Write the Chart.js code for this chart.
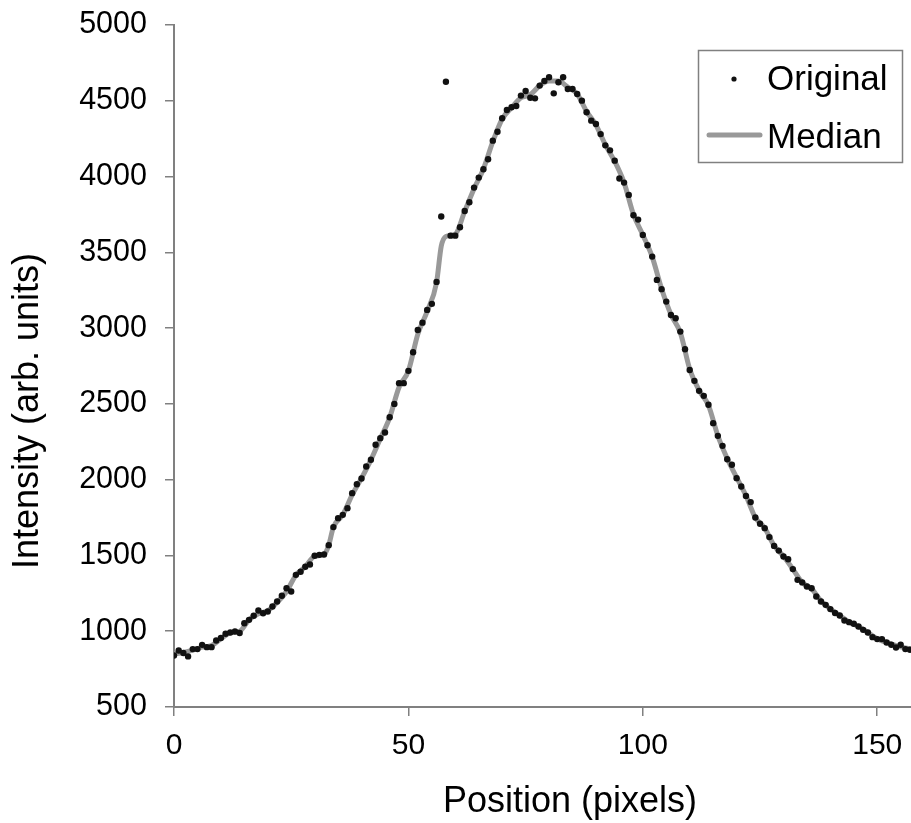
<!DOCTYPE html>
<html>
<head>
<meta charset="utf-8">
<script src="https://cdn.jsdelivr.net/npm/chart.js@4.4.1/dist/chart.umd.min.js"></script>
<style>
html, body { margin: 0; padding: 0; background: #fff; overflow: hidden; }
#grafico { display: block; }
</style>
</head>
<body>
<canvas id="grafico" width="911" height="823"></canvas>
<script>
// --- datos ---
// intensidad original, un valor por pixel (posicion 0..157)
const originalIntensity = [
  840, 873, 856, 834, 882, 882, 910, 895, 895, 939,
  955, 983, 992, 998, 988, 1053, 1075, 1102, 1137, 1119,
  1130, 1163, 1196, 1234, 1284, 1262, 1372, 1392, 1425, 1440,
  1498, 1504, 1506, 1568, 1687, 1746, 1768, 1812, 1911, 1970,
  2008, 2087, 2131, 2230, 2274, 2311, 2412, 2500, 2637, 2637,
  2718, 2841, 2988, 3036, 3120, 3160, 3305, 3736, 4626, 3610,
  3610, 3666, 3773, 3830, 3927, 3993, 4048, 4114, 4237, 4296,
  4385, 4439, 4457, 4466, 4534, 4565, 4520, 4516, 4600, 4631,
  4655, 4549, 4622, 4655, 4578, 4578, 4545, 4501, 4424, 4369,
  4347, 4280, 4206, 4173, 4105, 3987, 3960, 3879, 3745, 3716,
  3615, 3547, 3472, 3318, 3257, 3175, 3087, 3065, 2977, 2861,
  2724, 2652, 2586, 2553, 2494, 2373, 2289, 2223, 2135, 2098,
  2010, 1955, 1893, 1852, 1750, 1709, 1680, 1621, 1563, 1532,
  1493, 1475, 1410, 1339, 1322, 1295, 1284, 1229, 1196, 1174,
  1146, 1120, 1104, 1071, 1060, 1049, 1031, 1009, 992, 961,
  948, 948, 926, 911, 893, 911, 882, 878
];

// curva mediana (gris)
const medianPosition = [
  0, 2, 4, 6, 8, 10, 12, 14, 16, 18, 20, 22, 24, 26, 28, 30, 32, 33, 34, 36,
  38, 40, 42, 44, 46, 48, 50, 52, 54, 56, 57, 58, 60, 62, 64, 66, 68, 70, 72, 74,
  76, 78, 80, 82, 84, 86, 88, 90, 92, 94, 96, 98, 100, 102, 104, 106, 108, 110, 112, 114,
  116, 118, 120, 122, 124, 126, 128, 130, 132, 134, 136, 138, 140, 142, 144, 146, 148, 150, 152, 154,
  156, 157
];
const medianIntensity = [
  850, 860, 875, 895, 905, 950, 990, 1000, 1075, 1115, 1135, 1190, 1262, 1370, 1425, 1495, 1506, 1568, 1687, 1768,
  1900, 2010, 2131, 2270, 2410, 2610, 2718, 2960, 3110, 3300, 3540, 3605, 3620, 3770, 3920, 4050, 4230, 4380, 4455, 4520,
  4540, 4600, 4630, 4630, 4590, 4545, 4430, 4340, 4210, 4100, 3960, 3750, 3615, 3470, 3260, 3090, 2970, 2730, 2590, 2490,
  2290, 2140, 2015, 1895, 1750, 1680, 1565, 1495, 1410, 1322, 1280, 1200, 1146, 1104, 1060, 1031, 992, 950, 926, 905,
  890, 885
];

const xTicks = [0, 50, 100, 150];
const yTicks = [500, 1000, 1500, 2000, 2500, 3000, 3500, 4000, 4500, 5000];

const FUENTE = "'Liberation Sans', Arial, sans-serif";
const GRIS_EJE = "#808080";

// --- titulos de ejes y leyenda dibujados a mano ---
const extras = {
  id: "extras",
  afterDraw(chart) {
    const ctx = chart.ctx;
    ctx.save();
    ctx.fillStyle = "#000";
    ctx.font = "36px " + FUENTE;
    ctx.textAlign = "center";
    ctx.textBaseline = "alphabetic";
    ctx.fillText("Position (pixels)", 570, 812);

    ctx.save();
    ctx.translate(38, 411);
    ctx.rotate(-Math.PI / 2);
    ctx.fillText("Intensity (arb. units)", 0, 0);
    ctx.restore();

    // leyenda
    const ds = chart.data.datasets;
    ctx.font = "35px " + FUENTE;
    ctx.strokeStyle = GRIS_EJE;
    ctx.lineWidth = 1.5;
    ctx.strokeRect(698.5, 50.5, 204, 112);

    ctx.textAlign = "left";
    ctx.fillStyle = ds[0].backgroundColor;
    ctx.beginPath();
    ctx.arc(734, 79, 2.6, 0, Math.PI * 2);
    ctx.fill();
    ctx.fillStyle = "#000";
    ctx.fillText(ds[0].label, 767, 90);

    ctx.strokeStyle = ds[1].borderColor;
    ctx.lineWidth = 5;
    ctx.lineCap = "round";
    ctx.beginPath();
    ctx.moveTo(709, 135);
    ctx.lineTo(760, 135);
    ctx.stroke();
    ctx.fillText(ds[1].label, 767, 148);
    ctx.restore();
  }
};

new Chart(document.getElementById("grafico"), {
  type: "scatter",
  data: {
    datasets: [
      {
        label: "Original",
        data: originalIntensity.map((v, i) => ({ x: i, y: v })),
        backgroundColor: "#111",
        borderColor: "#111",
        pointRadius: 3.2,
        borderWidth: 0,
        showLine: false
      },
      {
        label: "Median",
        data: medianPosition.map((p, i) => ({ x: p, y: medianIntensity[i] })),
        borderColor: "#999999",
        backgroundColor: "#999999",
        borderWidth: 5,
        pointRadius: 0,
        showLine: true,
        cubicInterpolationMode: "monotone"
      }
    ]
  },
  options: {
    responsive: false,
    animation: false,
    devicePixelRatio: 1,
    layout: { autoPadding: false, padding: { top: 25, left: 0, right: 0, bottom: 0 } },
    plugins: {
      legend: { display: false },
      tooltip: { enabled: false }
    },
    scales: {
      x: {
        type: "linear",
        min: 0,
        max: 157.2,
        afterFit: s => { s.height = 116; s.paddingLeft = 0; s.paddingRight = 0; },
        afterBuildTicks: s => { s.ticks = xTicks.map(v => ({ value: v })); },
        ticks: {
          color: "#000",
          font: { family: FUENTE, size: 30, lineHeight: 2 },
          padding: 0,
          maxRotation: 0,
          callback: v => String(v)
        },
        grid: { drawOnChartArea: false, drawTicks: true, tickLength: 9, color: GRIS_EJE, lineWidth: 1.5 },
        border: { color: GRIS_EJE, width: 2 }
      },
      y: {
        type: "linear",
        min: 500,
        max: 5000,
        afterFit: s => { s.width = 174; s.paddingTop = 0; s.paddingBottom = 0; },
        afterBuildTicks: s => { s.ticks = yTicks.map(v => ({ value: v })); },
        ticks: {
          color: "#000",
          font: { family: FUENTE, size: 30.5 },
          padding: 18,
          callback: v => String(v)
        },
        grid: { drawOnChartArea: false, drawTicks: true, tickLength: 9, color: GRIS_EJE, lineWidth: 1.5 },
        border: { color: GRIS_EJE, width: 2 }
      }
    }
  },
  plugins: [extras]
});
</script>
</body>
</html>
